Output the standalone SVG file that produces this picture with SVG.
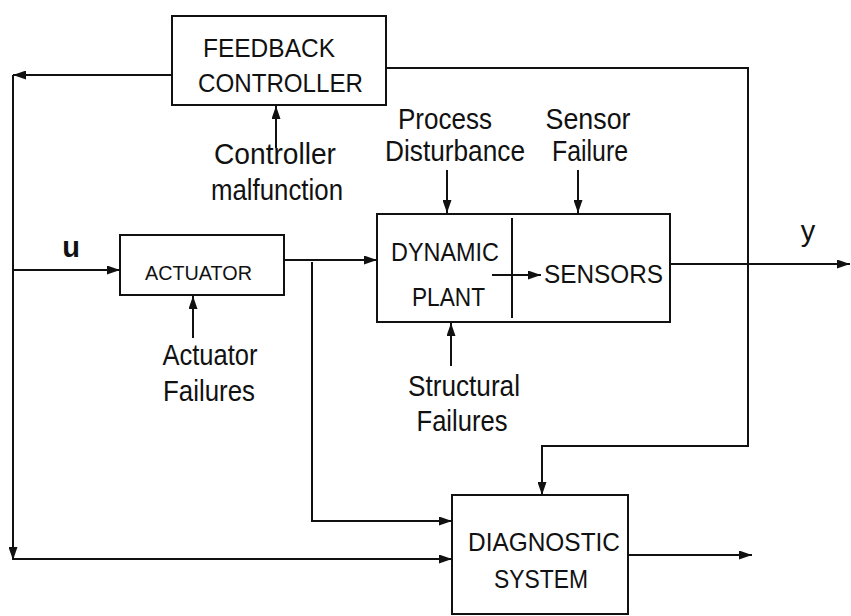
<svg xmlns="http://www.w3.org/2000/svg" width="851" height="616" viewBox="0 0 851 616">
<style>
  .box{fill:none;stroke:#111;stroke-width:2}
  .ln{fill:none;stroke:#111;stroke-width:2}
  .t{font-family:"Liberation Sans",Arial,sans-serif;fill:#111}
  .lbl{font-size:29px;text-anchor:middle}
  .bx{font-size:25px}
</style>
<defs>
  <marker id="ah" viewBox="0 0 13 9" refX="13" refY="4.5" markerWidth="13" markerHeight="9" markerUnits="userSpaceOnUse" orient="auto">
    <path d="M0,0 L13,4.5 L0,9 z" fill="#111"/>
  </marker>
</defs>
<rect width="851" height="616" fill="#fff"/>

<g id="feedback-controller">
  <rect class="box" x="172" y="16" width="214" height="89"/>
  <text class="t" x="203" y="57" font-size="26" textLength="132" lengthAdjust="spacingAndGlyphs">FEEDBACK</text>
  <text class="t" x="198" y="92" font-size="26" textLength="165" lengthAdjust="spacingAndGlyphs">CONTROLLER</text>
</g>

<g id="actuator">
  <rect class="box" x="120" y="235" width="164" height="60"/>
  <text class="t" x="145" y="280" font-size="21" textLength="107" lengthAdjust="spacingAndGlyphs">ACTUATOR</text>
</g>

<g id="dynamic-plant">
  <rect class="box" x="377" y="214" width="293" height="108"/>
  <path class="ln" d="M512,218 V318"/>
  <text class="t bx" x="391" y="261" textLength="108" lengthAdjust="spacingAndGlyphs">DYNAMIC</text>
  <text class="t bx" x="412" y="306" textLength="73" lengthAdjust="spacingAndGlyphs">PLANT</text>
  <text class="t bx" x="544" y="283" textLength="119" lengthAdjust="spacingAndGlyphs">SENSORS</text>
</g>

<g id="diagnostic-system">
  <rect class="box" x="452" y="495" width="176" height="119"/>
  <text class="t bx" x="468" y="551" textLength="152" lengthAdjust="spacingAndGlyphs">DIAGNOSTIC</text>
  <text class="t bx" x="494" y="588" textLength="94" lengthAdjust="spacingAndGlyphs">SYSTEM</text>
</g>

<g id="labels">
  <text class="t lbl" x="275" y="164" textLength="122" lengthAdjust="spacingAndGlyphs">Controller</text>
  <text class="t lbl" x="277" y="200" textLength="132" lengthAdjust="spacingAndGlyphs">malfunction</text>
  <text class="t lbl" x="445" y="129" textLength="94" lengthAdjust="spacingAndGlyphs">Process</text>
  <text class="t lbl" x="455" y="161" textLength="140" lengthAdjust="spacingAndGlyphs">Disturbance</text>
  <text class="t lbl" x="588" y="129" textLength="85" lengthAdjust="spacingAndGlyphs">Sensor</text>
  <text class="t lbl" x="590" y="161" textLength="76" lengthAdjust="spacingAndGlyphs">Failure</text>
  <text class="t lbl" x="210" y="365" textLength="95" lengthAdjust="spacingAndGlyphs">Actuator</text>
  <text class="t lbl" x="209" y="401" textLength="92" lengthAdjust="spacingAndGlyphs">Failures</text>
  <text class="t lbl" x="464" y="396" textLength="112" lengthAdjust="spacingAndGlyphs">Structural</text>
  <text class="t lbl" x="462" y="431" textLength="91" lengthAdjust="spacingAndGlyphs">Failures</text>
  <text class="t" x="71" y="257" font-size="29" font-weight="bold" text-anchor="middle">u</text>
  <text class="t" x="808" y="241" font-size="29" text-anchor="middle">y</text>
</g>

<g id="connectors">
  <path class="ln" d="M172,75 H13" marker-end="url(#ah)"/>
  <path class="ln" d="M13,75 V560" marker-end="url(#ah)"/>
  <path class="ln" d="M13,270 H120" marker-end="url(#ah)"/>
  <path class="ln" d="M284,260 H377" marker-end="url(#ah)"/>
  <path class="ln" d="M312,262 V521 H452" marker-end="url(#ah)"/>
  <path class="ln" d="M13,559 H452" marker-end="url(#ah)"/>
  <path class="ln" d="M492,275 H541" marker-end="url(#ah)"/>
  <path class="ln" d="M670,264 H850" marker-end="url(#ah)"/>
  <path class="ln" d="M386,68 H748 V446 H542 V495" marker-end="url(#ah)"/>
  <path class="ln" d="M628,555 H752" marker-end="url(#ah)"/>
  <path class="ln" d="M276,148 V106" marker-end="url(#ah)"/>
  <path class="ln" d="M447,170 V213" marker-end="url(#ah)"/>
  <path class="ln" d="M578,170 V213" marker-end="url(#ah)"/>
  <path class="ln" d="M193,338 V296" marker-end="url(#ah)"/>
  <path class="ln" d="M451,366 V323" marker-end="url(#ah)"/>
</g>
</svg>
